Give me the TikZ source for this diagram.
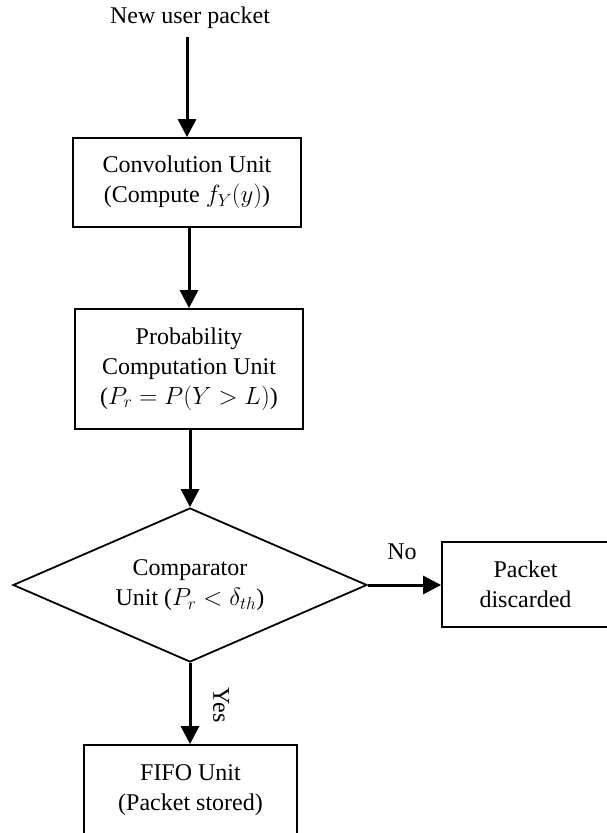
\documentclass[tikz,border=0pt]{standalone}
\usepackage{fontspec}
\setmainfont{Liberation Serif}
\usetikzlibrary{arrows.meta,shapes.geometric}
\begin{document}
\begin{tikzpicture}[x=1pt,y=-1pt,
  txt/.style={font=\fontsize{24}{30}\selectfont,align=center},
  box/.style={txt,draw,line width=1.8pt,inner sep=0pt},
  arr/.style={line width=3pt,-{Triangle[width=18pt,length=18pt]}}]
\useasboundingbox (0,0) rectangle (607,833);
\node[txt,inner ysep=8pt] (start) at (190,18) {New user packet};
\node[box,minimum width=228pt,minimum height=89pt] (conv) at (187,182.5) {Convolution Unit\\(Compute $f_Y(y)$)};
\node[box,minimum width=228pt,minimum height=120pt] (prob) at (189,369) {Probability\\Computation Unit\\($P_r = P(Y > L)$)};
\node[box,shape=diamond,aspect=2.3,minimum width=354pt,minimum height=154pt] (dia) at (190,585) {Comparator\\Unit ($P_r < \delta_{th}$)};
\node[box,minimum width=167pt,minimum height=85pt] (disc) at (525.5,584.5) {Packet\\discarded};
\node[box,minimum width=213pt,minimum height=90pt] (fifo) at (190.5,790) {FIFO Unit\\(Packet stored)};
\draw[arr] (start.south -| conv.north) -- (conv.north);
\draw[arr] (conv.south -| prob.north) -- (prob.north);
\draw[arr] (prob.south -| dia.north) -- (dia.north);
\draw[arr] (dia.east) -- (dia.east -| disc.west);
\draw[arr] (dia.south) -- (dia.south |- fifo.north);
\node[txt] (no) at (402,552) {No};
\node[txt,rotate=-90] (yes) at (221,705) {Yes};
\end{tikzpicture}
\end{document}
